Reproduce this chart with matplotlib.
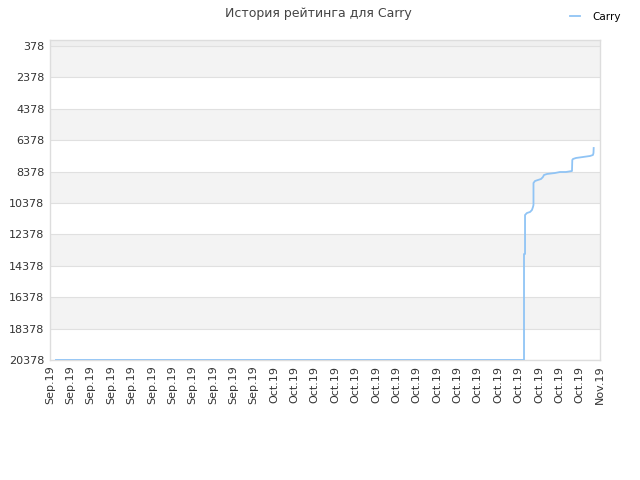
import matplotlib
matplotlib.use("Agg")
import matplotlib.pyplot as plt

# days since Sep 9 and rating position
days = [0.59, 46.54, 46.54, 46.64, 46.64, 46.83, 47.13, 47.32, 47.42, 47.47,
        47.47, 47.62, 47.91, 48.21, 48.40, 48.50, 48.80, 49.58, 50.07, 50.66,
        51.25, 51.28, 51.35, 51.64, 52.33, 53.02, 53.31, 53.36, 53.38]
rating = [20378, 20378, 13628, 13628, 11144, 11017, 10953, 10826, 10635, 10507,
          9106, 8979, 8915, 8852, 8724, 8597, 8533, 8470, 8406, 8406,
          8342, 7642, 7578, 7514, 7451, 7387, 7323, 7196, 6878]

tick_days = list(range(0, 56, 2))
tick_labels = ["Sep.19"] * 11 + ["Oct.19"] * 16 + ["Nov.19"]
y_ticks = [378, 2378, 4378, 6378, 8378, 10378, 12378, 14378, 16378, 18378, 20378]

fig = plt.figure(figsize=(6.4, 4.8), dpi=100)
ax = fig.add_axes([0.078, 0.25, 0.8595, 0.6667])

# alternating bands
ax.axhspan(0, 378, color="#efefef", zorder=0, lw=0)
for i in range(0, len(y_ticks) - 1, 2):
    lo = 378 if i == 0 else y_ticks[i]
    ax.axhspan(lo, y_ticks[i + 1], color="#f3f3f3", zorder=0, lw=0)
for y in y_ticks:
    ax.axhline(y, color="#e0e0e0", lw=0.8, zorder=1)

ax.plot(days, rating, color="#90c4f5", lw=1.3, label="Carry", zorder=3)

ax.set_xlim(0, 54)
ax.set_ylim(20378, 0)
ax.set_yticks(y_ticks)
ax.set_yticklabels([str(v) for v in y_ticks], fontsize=8, color="#333333")
ax.set_xticks(tick_days)
ax.set_xticklabels(tick_labels, rotation=90, fontsize=8, color="#333333")
ax.tick_params(length=0, pad=4)

for s in ax.spines.values():
    s.set_color("#dddddd")
    s.set_linewidth(1)

fig.text(0.497, 0.972, "История рейтинга для Carry", ha="center", va="center",
         fontsize=9, color="#444444")
fig.legend(loc="upper right", bbox_to_anchor=(0.985, 0.995), frameon=False,
           fontsize=7.5, handlelength=1.0, handletextpad=1.2)

fig.savefig("out.png", dpi=100)
